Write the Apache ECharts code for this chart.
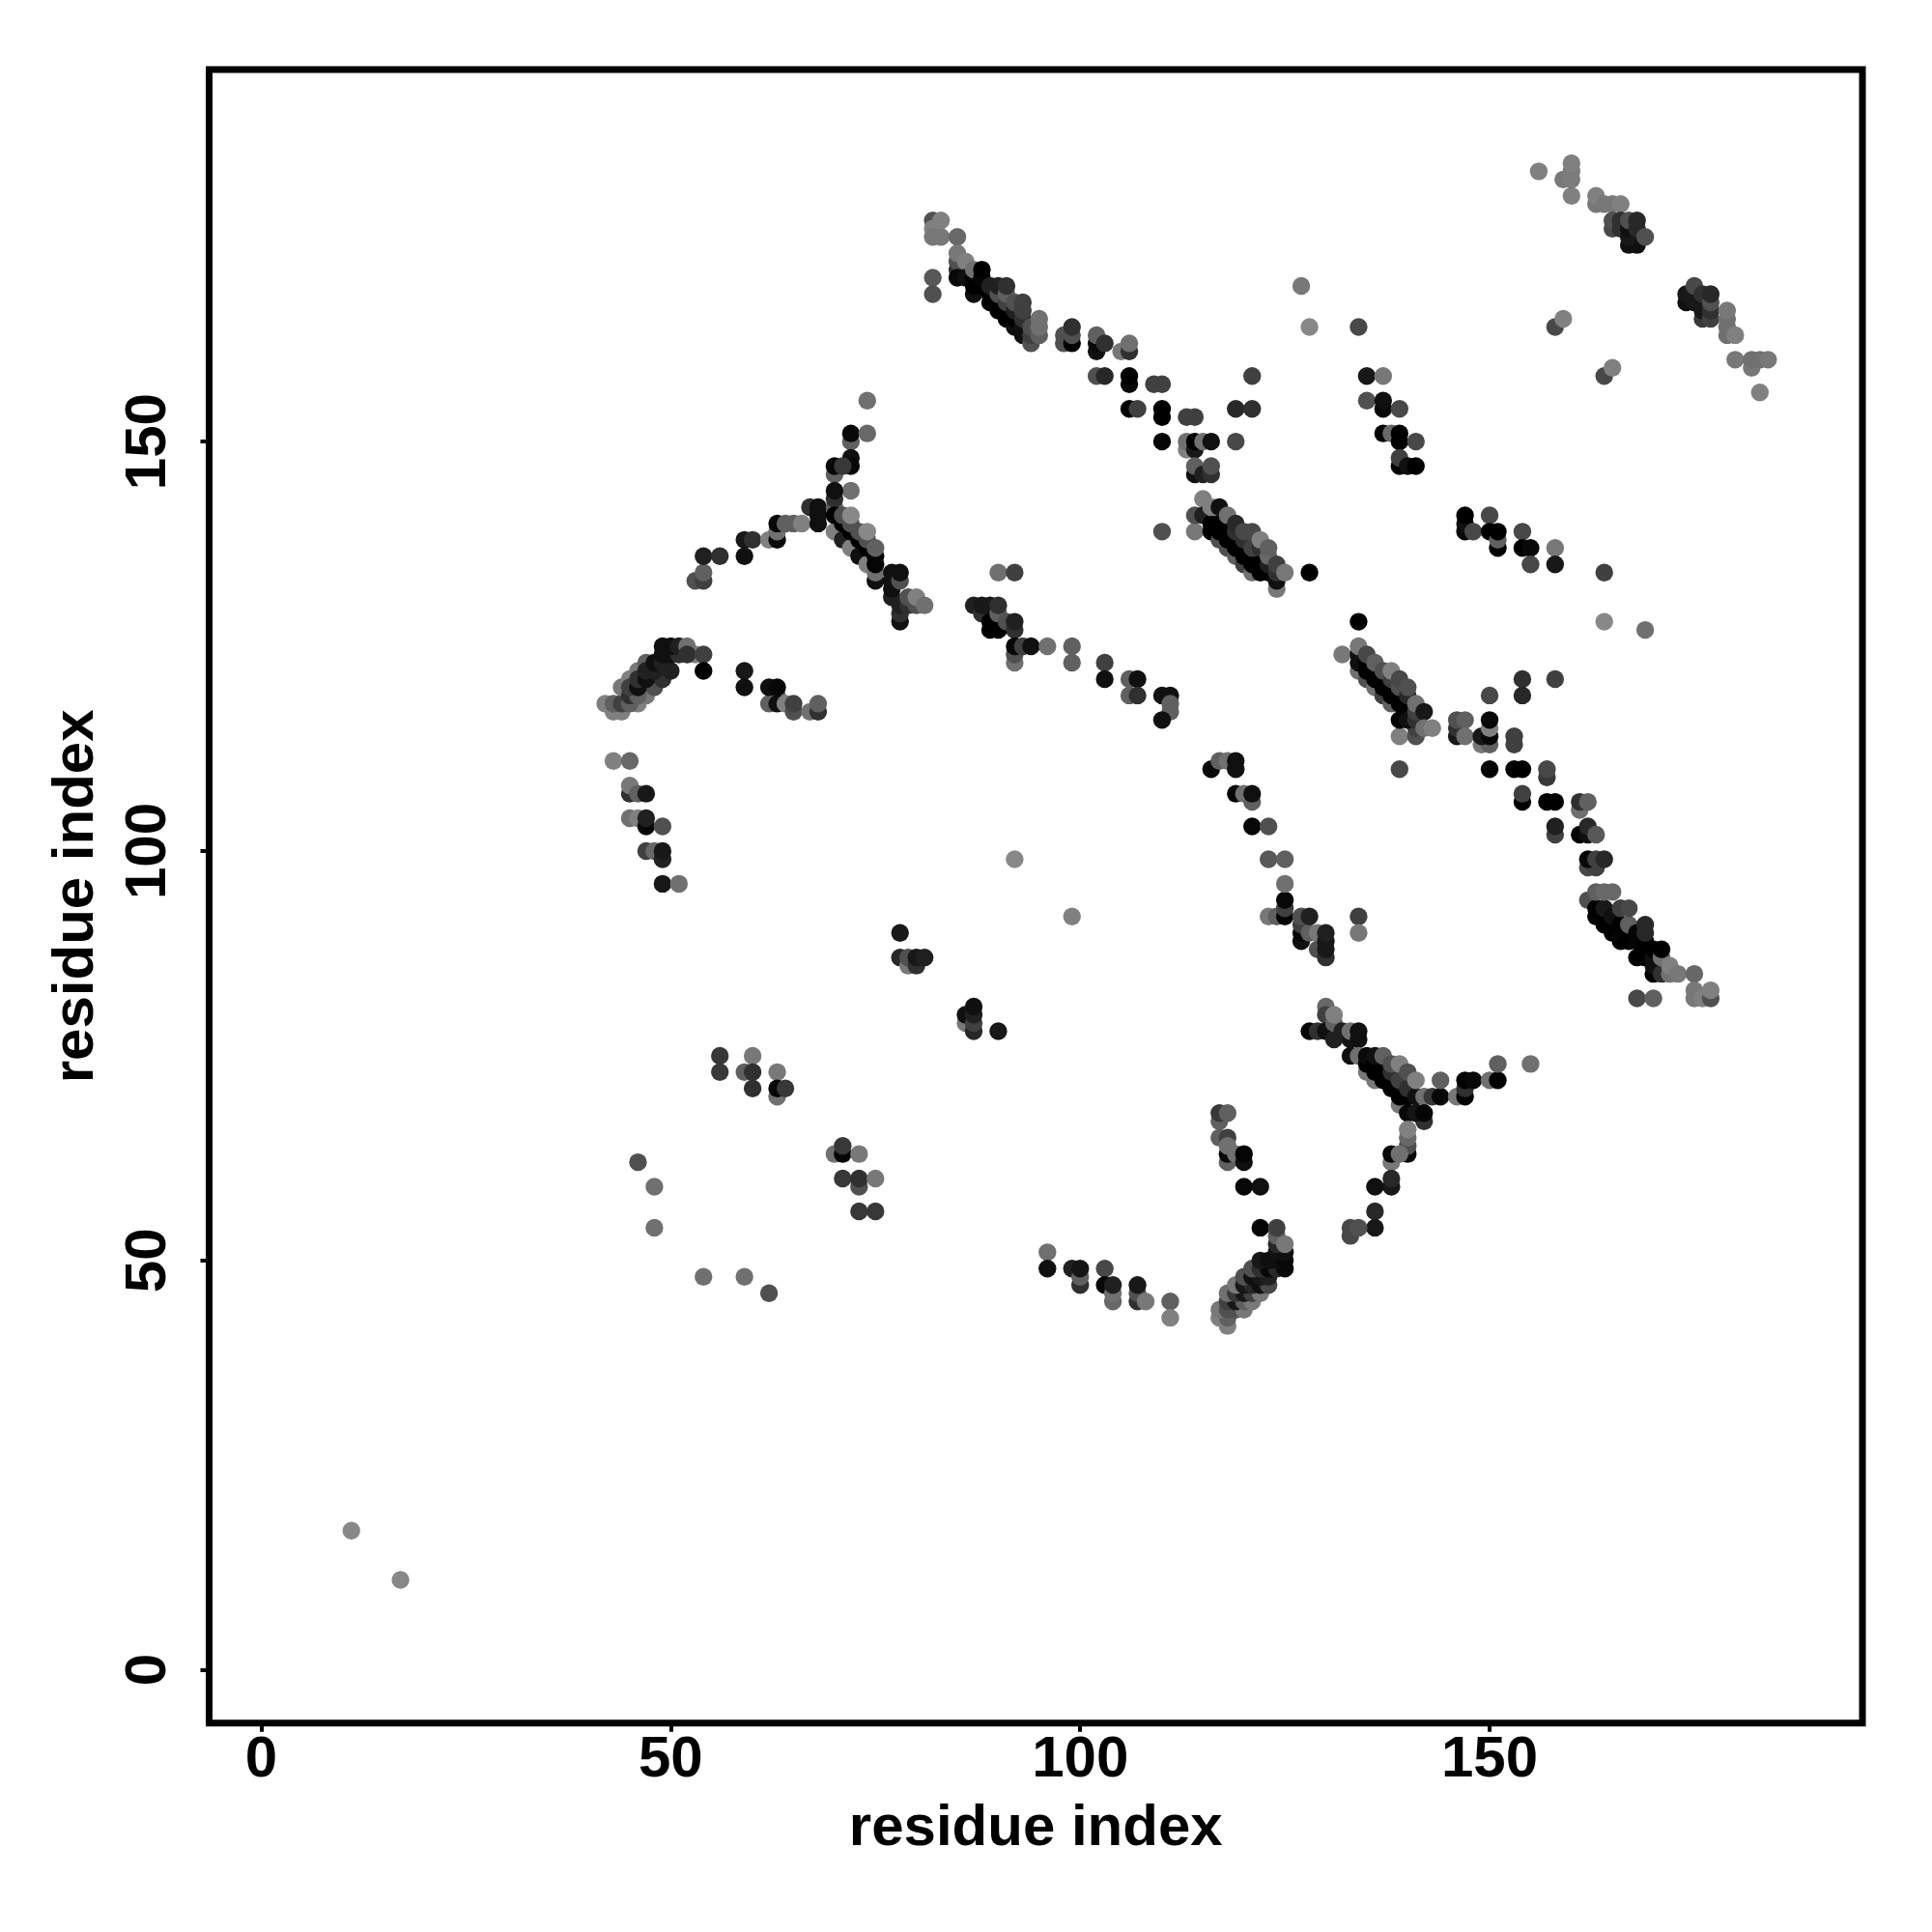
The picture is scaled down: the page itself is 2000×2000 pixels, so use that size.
<!DOCTYPE html>
<html><head><meta charset="utf-8">
<script src="https://cdn.jsdelivr.net/npm/echarts@6/dist/echarts.min.js"></script>
<style>html,body{margin:0;padding:0;background:#fff}#c{width:2000px;height:2000px}</style>
</head><body><div id="c"></div>
<script>
// each point: [residue x, residue y, grey level]
const tickValues = [0, 50, 100, 150];
const axisTitle = 'residue index';
const farLow = [[11,17,0x88],[17,11,0x88]];
const scatterLow = [[46,62,0x50],[48,59,0x70],[48,54,0x70],[54,48,0x70],[59,48,0x70],[62,46,0x50]];
const groupA = [[56,75,0x38],[56,73,0x38],[59,73,0x60],[60,75,0x78],[60,73,0x30],[60,71,0x30],[63,73,0x78],[63,70,0x70],[63,71,0x05],[64,71,0x38]];
const groupB = [[70,63,0x70],[71,63,0x05],[71,64,0x38],[73,63,0x78],[71,60,0x38],[73,59,0x50],[73,60,0x30],[75,60,0x78],[73,56,0x38],[75,56,0x38]];
const groupC = [[78,90,0x18],[78,87,0x28],[79,86,0x78],[79,87,0x50],[80,86,0x30],[80,87,0x18],[81,87,0x20]];
const groupD = [[86,79,0x78],[86,80,0x10],[87,78,0x28],[87,79,0x40],[87,80,0x20],[87,81,0x10],[90,78,0x18]];
const singles = [[92,99,0x88],[99,92,0x80],[127,169,0x78],[128,164,0x88],[134,164,0x48],[128,134,0x00],[134,128,0x00],[164,134,0x40],[164,128,0x88],[169,127,0x70],[139,110,0x48],[134,92,0x40],[134,90,0x78],[155,74,0x70]];
const arcLeft = [[43,111,0x80],[45,111,0x68],[45,107,0x30],[45,108,0x78],[46,107,0x60],[47,107,0x18],[45,104,0x70],[46,104,0x80],[47,103,0x08],[47,104,0x20],[49,103,0x50],[47,100,0x40],[48,100,0x68],[49,99,0x20],[49,100,0x18],[49,96,0x18],[51,96,0x70]];
const arcBand = [[43,117,0x80],[44,117,0x80],[42,118,0x80],[43,118,0x60],[46,118,0x80],[47,119,0x78],[48,120,0x50],[49,121,0x30],[50,122,0x20],[44,118,0x40],[45,118,0x60],[44,120,0x78],[45,121,0x80],[46,122,0x78],[45,119,0x30],[46,119,0x60],[45,120,0x40],[46,120,0x10],[46,121,0x30],[47,121,0x10],[47,123,0x60],[47,122,0x20],[48,122,0x20],[48,123,0x10],[49,123,0x20],[49,124,0x10],[50,124,0x10],[51,124,0x30],[49,125,0x10],[50,125,0x10],[51,125,0x20],[53,124,0x80],[52,125,0x70],[52,124,0x30],[54,124,0x40],[54,122,0x00]];
const arcRight = [[59,122,0x18],[59,120,0x10],[62,118,0x60],[63,119,0x70],[63,118,0x10],[62,120,0x10],[63,120,0x08],[64,118,0x80],[65,117,0x50],[65,118,0x40],[67,117,0x70],[68,117,0x30],[68,118,0x60]];
const ridgeLeft = [[53,133,0x50],[54,133,0x40],[54,134,0x60],[54,136,0x20],[56,136,0x30],[59,136,0x10],[59,138,0x18],[60,138,0x30],[62,138,0x80],[63,138,0x0a],[63,139,0x70],[63,140,0x08],[64,140,0x60],[65,140,0x60],[66,140,0x80],[67,142,0x30],[68,140,0x10],[68,141,0x10],[68,142,0x10]];
const ridgeTop = [[74,155,0x70],[72,150,0x60],[72,151,0x08],[74,151,0x68],[72,148,0x10],[72,147,0x08],[70,146,0x60],[70,147,0x05],[71,147,0x38],[72,144,0x70],[70,142,0x60],[70,143,0x30],[70,144,0x10]];
const ridgeDiag = [[70,139,0x80],[71,138,0x20],[72,137,0x80],[73,136,0x10],[74,135,0x80],[75,133,0x10],[75,134,0x70],[70,141,0x00],[71,140,0x00],[72,139,0x00],[73,138,0x00],[74,137,0x00],[75,136,0x00],[75,135,0x05],[71,141,0x50],[72,140,0x50],[73,139,0x50],[74,138,0x50],[72,141,0x88],[74,139,0x88],[75,137,0x60]];
const ridgeEnd = [[77,131,0x20],[77,132,0x10],[77,133,0x10],[77,134,0x10],[78,133,0x50],[78,134,0x10],[78,128,0x10],[78,129,0x30],[78,130,0x20],[79,130,0x30],[79,131,0x50],[80,130,0x50],[80,131,0x80],[81,130,0x70]];
const midChain = [[87,130,0x20],[88,129,0x30],[88,130,0x18],[89,130,0x18],[89,127,0x00],[89,128,0x00],[90,127,0x00],[90,129,0x60],[90,130,0x30],[90,134,0x70],[92,134,0x40],[91,128,0x50],[92,127,0x30],[92,128,0x20],[92,123,0x70],[92,124,0x50],[92,125,0x08],[93,125,0x40],[94,125,0x10],[96,125,0x70]];
const chainGap = [[99,125,0x60],[99,123,0x60],[103,123,0x40],[103,121,0x10],[106,121,0x60],[107,121,0x10],[106,119,0x60],[107,119,0x30],[110,119,0x10],[111,119,0x10],[111,118,0x60],[111,117,0x60],[110,116,0x10]];
const chainFall = [[116,110,0x08],[117,111,0x60],[118,111,0x70],[119,111,0x10],[119,110,0x10],[119,107,0x05],[120,107,0x70],[121,106,0x60],[121,107,0x10],[121,103,0x08],[123,103,0x50],[123,99,0x58],[125,99,0x60]];
const diagTopA = [[82,170,0x58],[82,168,0x50],[82,177,0x50],[82,176,0x80],[82,175,0x78],[83,175,0x78],[83,177,0x80],[85,175,0x68],[85,171,0x30],[85,172,0x50],[85,173,0x78],[86,172,0x80],[85,170,0x08],[86,170,0x10],[87,168,0x10],[87,169,0x00],[87,170,0x00],[87,171,0x70],[88,169,0x00],[88,170,0x05],[88,171,0x00],[89,167,0x00],[89,168,0x00],[89,169,0x20],[90,166,0x00],[90,167,0x00],[90,168,0x50],[90,169,0x20],[91,165,0x00],[91,166,0x00],[91,167,0x40],[91,168,0x60],[91,169,0x30],[92,164,0x10],[92,165,0x00],[92,166,0x20],[92,167,0x50],[93,163,0x10],[93,164,0x10],[93,165,0x30],[93,166,0x40],[93,167,0x40],[94,162,0x50],[94,163,0x40],[94,164,0x50],[95,163,0x60],[95,164,0x70],[95,165,0x70]];
const diagTopB = [[98,162,0x50],[98,163,0x50],[99,162,0x00],[99,163,0x50],[99,164,0x30],[102,161,0x10],[102,162,0x08],[102,163,0x60],[103,162,0x30],[105,161,0x78],[106,161,0x30],[106,162,0x70],[102,158,0x50],[103,158,0x28],[106,157,0x08],[106,158,0x00],[109,157,0x40],[110,157,0x40],[106,154,0x00],[107,154,0x40],[110,153,0x00],[110,154,0x00],[113,153,0x40],[114,153,0x40],[110,150,0x05],[113,149,0x80],[113,150,0x70],[114,149,0x18],[114,150,0x00],[115,150,0x70],[116,150,0x10],[119,150,0x48],[119,154,0x28],[121,154,0x30],[121,158,0x40],[114,146,0x10],[114,147,0x60],[115,146,0x20],[116,146,0x30],[116,147,0x50]];
const diagMid = [[110,139,0x50],[114,139,0x78],[114,141,0x50],[115,143,0x80],[115,141,0x20],[116,139,0x00],[116,140,0x00],[116,142,0x80],[117,138,0x50],[117,139,0x00],[117,140,0x00],[117,142,0x10],[118,137,0x50],[118,138,0x00],[118,139,0x00],[118,141,0x70],[119,136,0x60],[119,137,0x00],[119,138,0x00],[119,139,0x30],[119,140,0x28],[120,135,0x40],[120,136,0x00],[120,137,0x00],[120,138,0x30],[120,139,0x48],[121,134,0x70],[121,135,0x00],[121,136,0x00],[121,137,0x40],[121,139,0x48],[122,134,0x00],[122,135,0x00],[122,137,0x30],[122,138,0x80],[123,134,0x00],[123,135,0x20],[123,136,0x68],[123,137,0x60],[124,132,0x78],[124,133,0x10],[124,134,0x30],[124,135,0x40],[125,134,0x78]];
const cornerTop = [[156,183,0x80],[159,182,0x78],[160,180,0x80],[160,182,0x7c],[160,183,0x7c],[160,184,0x80],[163,179,0x78],[163,180,0x80],[164,179,0x78],[165,179,0x78],[166,179,0x80],[165,176,0x48],[165,177,0x50],[166,176,0x30],[166,177,0x30],[167,174,0x10],[168,174,0x10],[167,175,0x18],[167,176,0x10],[167,177,0x50],[168,176,0x28],[168,177,0x28],[169,175,0x50]];
const cornerRight = [[174,167,0x10],[174,168,0x18],[175,167,0x18],[175,169,0x48],[176,165,0x38],[176,166,0x18],[176,168,0x30],[177,165,0x40],[177,166,0x30],[177,167,0x50],[177,168,0x28],[179,163,0x70],[179,164,0x70],[179,165,0x70],[179,166,0x78],[180,163,0x80],[180,160,0x78],[182,159,0x78],[182,160,0x70],[183,160,0x70],[184,160,0x78],[183,156,0x80],[158,164,0x48],[159,165,0x80],[164,158,0x48],[165,159,0x80]];
const chainUpper = [[135,158,0x18],[137,158,0x78],[135,155,0x50],[137,154,0x08],[137,155,0x10],[139,154,0x48],[137,151,0x00],[138,151,0x68],[139,150,0x00],[139,151,0x00],[141,150,0x48],[139,147,0x00],[139,148,0x40],[140,147,0x10],[141,147,0x00]];
const chainRight = [[147,139,0x08],[147,140,0x10],[147,141,0x00],[148,139,0x48],[150,141,0x48],[150,139,0x00],[151,137,0x00],[151,138,0x60],[151,139,0x00],[154,139,0x48],[154,137,0x00],[155,137,0x08],[155,135,0x48],[158,137,0x78],[158,135,0x18]];
const diagLow = [[132,124,0x78],[134,122,0x70],[135,121,0x50],[136,120,0x70],[137,119,0x40],[138,118,0x60],[134,123,0x10],[134,124,0x10],[134,125,0x78],[135,122,0x00],[135,123,0x00],[135,124,0x48],[136,121,0x00],[136,122,0x00],[136,123,0x60],[137,120,0x00],[137,121,0x00],[137,122,0x50],[138,119,0x00],[138,120,0x00],[138,121,0x40],[138,122,0x80],[139,114,0x80],[139,118,0x00],[139,119,0x00],[139,120,0x50],[139,121,0x48],[140,117,0x00],[140,118,0x00],[140,119,0x28],[140,120,0x50],[141,114,0x50],[141,115,0x40],[139,116,0x00],[140,116,0x10],[141,116,0x30],[141,117,0x40],[141,118,0x70],[142,117,0x18],[142,115,0x70],[143,115,0x80]];
const chainMid = [[146,114,0x18],[146,115,0x30],[146,116,0x50],[147,116,0x60],[147,114,0x70],[150,119,0x48],[149,113,0x78],[150,113,0x60],[149,114,0x18],[150,114,0x08],[150,115,0x80],[150,116,0x08],[154,121,0x30],[154,119,0x28],[158,121,0x40],[153,113,0x40],[153,114,0x40],[150,110,0x05],[153,110,0x00],[154,110,0x00],[157,109,0x38],[157,110,0x48],[154,106,0x00],[154,107,0x40],[157,106,0x00],[158,106,0x00],[161,105,0x70],[161,106,0x30],[162,106,0x60],[158,102,0x40],[158,103,0x20],[161,102,0x05],[162,102,0x10],[162,103,0x28],[163,102,0x58],[162,98,0x48],[163,98,0x40],[162,99,0x08],[163,99,0x40],[164,99,0x28]];
const diagRight = [[162,94,0x50],[163,92,0x05],[163,93,0x00],[163,95,0x60],[164,91,0x00],[164,92,0x00],[164,93,0x18],[164,95,0x68],[165,90,0x00],[165,91,0x00],[165,92,0x10],[165,95,0x68],[166,89,0x00],[166,90,0x05],[166,91,0x00],[166,93,0x40],[167,89,0x00],[167,90,0x00],[167,91,0x60],[167,93,0x48],[168,87,0x00],[168,89,0x05],[168,90,0x05],[169,87,0x00],[169,88,0x00],[169,89,0x00],[169,90,0x28],[169,91,0x28],[170,85,0x00],[170,86,0x10],[170,87,0x10],[170,88,0x00],[171,85,0x30],[171,87,0x70],[171,88,0x00],[172,85,0x70],[172,86,0x80],[173,85,0x78],[175,85,0x68],[168,82,0x48],[170,82,0x60],[175,82,0x78],[175,83,0x78],[176,82,0x80],[177,82,0x50],[177,83,0x80]];
const clusterLow = [[123,92,0x78],[124,92,0x60],[125,92,0x05],[125,93,0x40],[125,94,0x08],[125,96,0x70],[127,89,0x10],[127,90,0x05],[127,91,0x40],[127,92,0x50],[128,90,0x60],[128,92,0x20],[129,88,0x50],[129,90,0x78],[130,87,0x30],[130,88,0x18],[130,89,0x18],[130,90,0x20]];
const branchTop = [[130,81,0x68],[130,80,0x40],[128,78,0x08],[129,78,0x30],[130,78,0x10],[131,77,0x20],[131,79,0x60],[131,80,0x80],[132,78,0x20],[133,77,0x15],[133,78,0x70],[134,77,0x10],[134,78,0x10]];
const branchDiag = [[133,75,0x10],[134,75,0x70],[135,73,0x78],[135,74,0x00],[135,75,0x0a],[136,72,0x78],[136,73,0x00],[136,74,0x00],[136,75,0x10],[137,72,0x00],[137,73,0x00],[137,75,0x60],[138,71,0x00],[138,72,0x00],[138,73,0x30],[138,74,0x50],[139,69,0x78],[139,70,0x00],[139,71,0x00],[139,72,0x40],[139,74,0x80],[140,70,0x00],[140,71,0x30],[140,73,0x50],[141,70,0x10],[141,72,0x80],[142,70,0x70],[143,70,0x38],[144,70,0x08],[144,72,0x60],[142,67,0x30],[140,68,0x08],[141,68,0x15],[142,68,0x05]];
const branchDown = [[140,63,0x08],[140,64,0x50],[140,65,0x68],[140,66,0x80],[138,62,0x78],[138,63,0x08],[139,63,0x70],[138,59,0x18],[138,60,0x28],[136,59,0x10],[136,56,0x28],[136,54,0x18],[133,53,0x48],[133,54,0x48],[134,54,0x50]];
const branchRight = [[146,70,0x78],[147,70,0x05],[147,71,0x30],[147,72,0x00],[148,72,0x08],[150,72,0x70],[151,72,0x00],[151,74,0x60]];
const hook = [[117,67,0x60],[117,68,0x38],[118,68,0x60],[117,65,0x60],[118,65,0x40],[118,62,0x60],[118,63,0x08],[118,64,0x70],[119,63,0x70],[120,62,0x10],[120,63,0x05],[120,59,0x08],[122,59,0x10]];
const tailLow = [[96,51,0x70],[96,49,0x10],[99,49,0x20],[100,47,0x30],[100,48,0x60],[100,49,0x15],[103,49,0x48],[103,47,0x08],[104,45,0x68],[104,46,0x70],[104,47,0x20],[107,45,0x30],[107,46,0x50],[107,47,0x18],[108,45,0x78],[111,45,0x60],[111,43,0x80]];
const bandLow = [[118,42,0x80],[117,43,0x80],[118,43,0x60],[117,44,0x78],[118,44,0x50],[119,44,0x50],[120,44,0x78],[118,45,0x40],[119,45,0x18],[120,45,0x60],[121,45,0x78],[118,46,0x70],[119,46,0x38],[120,46,0x18],[121,46,0x40],[122,46,0x78],[119,47,0x78],[120,47,0x18],[121,47,0x28],[122,47,0x10],[123,47,0x48],[120,48,0x50],[121,48,0x10],[122,48,0x18],[123,48,0x20],[121,49,0x50],[122,49,0x30],[123,49,0x08],[124,49,0x28],[125,49,0x08],[122,50,0x18],[123,50,0x10],[124,50,0x10],[125,50,0x08],[124,51,0x10],[125,51,0x10],[124,52,0x28],[124,53,0x60],[125,52,0x78],[122,54,0x05],[124,54,0x40]];

const allPoints = [].concat(farLow, scatterLow, groupA, groupB, groupC, groupD, singles, arcLeft, arcBand, arcRight,
  ridgeLeft, ridgeTop, ridgeDiag, ridgeEnd, midChain, chainGap, chainFall, diagTopA, diagTopB, diagMid, cornerTop, cornerRight, chainUpper,
  chainRight, diagLow, chainMid, diagRight, clusterLow, branchTop, branchDiag, branchDown, branchRight, hook, tailLow, bandLow);

const grey = g => 'rgb(' + g + ',' + g + ',' + g + ')';
const fontFamily = '"Liberation Sans", Arial, sans-serif';
const labelStyle = { fontFamily, fontWeight: 'bold', fontSize: 60, color: '#000' };

const chart = echarts.init(document.getElementById('c'), null, { renderer: 'canvas' });
chart.setOption({
  animation: false,
  backgroundColor: '#fff',
  grid: { left: 216.5, top: 72, width: 1711.5, height: 1711.7, show: true, borderColor: '#000', borderWidth: 7, backgroundColor: 'transparent' },
  xAxis: {
    type: 'value', min: -6.37, max: 195.53, splitLine: { show: false },
    axisLine: { show: false, onZero: false },
    axisTick: { show: true, length: 9, lineStyle: { color: '#000', width: 4 }, customValues: tickValues },
    axisLabel: Object.assign({ margin: 9, customValues: tickValues }, labelStyle),
    name: axisTitle, nameLocation: 'middle', nameGap: 80,
    nameTextStyle: labelStyle
  },
  yAxis: {
    type: 'value', min: -6.49, max: 195.43, splitLine: { show: false },
    axisLine: { show: false, onZero: false },
    axisTick: { show: true, length: 9, lineStyle: { color: '#000', width: 4 }, customValues: tickValues },
    axisLabel: Object.assign({ margin: 32, rotate: 90, customValues: tickValues, align: 'center', verticalAlign: 'bottom' }, labelStyle),
    name: axisTitle, nameLocation: 'middle', nameGap: 107,
    nameTextStyle: labelStyle
  },
  series: [{
    type: 'scatter', symbol: 'circle', symbolSize: 18.4,
    itemStyle: { opacity: 1 },
    data: allPoints.map(p => ({ value: [p[0], p[1]], itemStyle: { color: grey(p[2]), opacity: 1 } })),
    silent: true
  }]
});
</script></body></html>
